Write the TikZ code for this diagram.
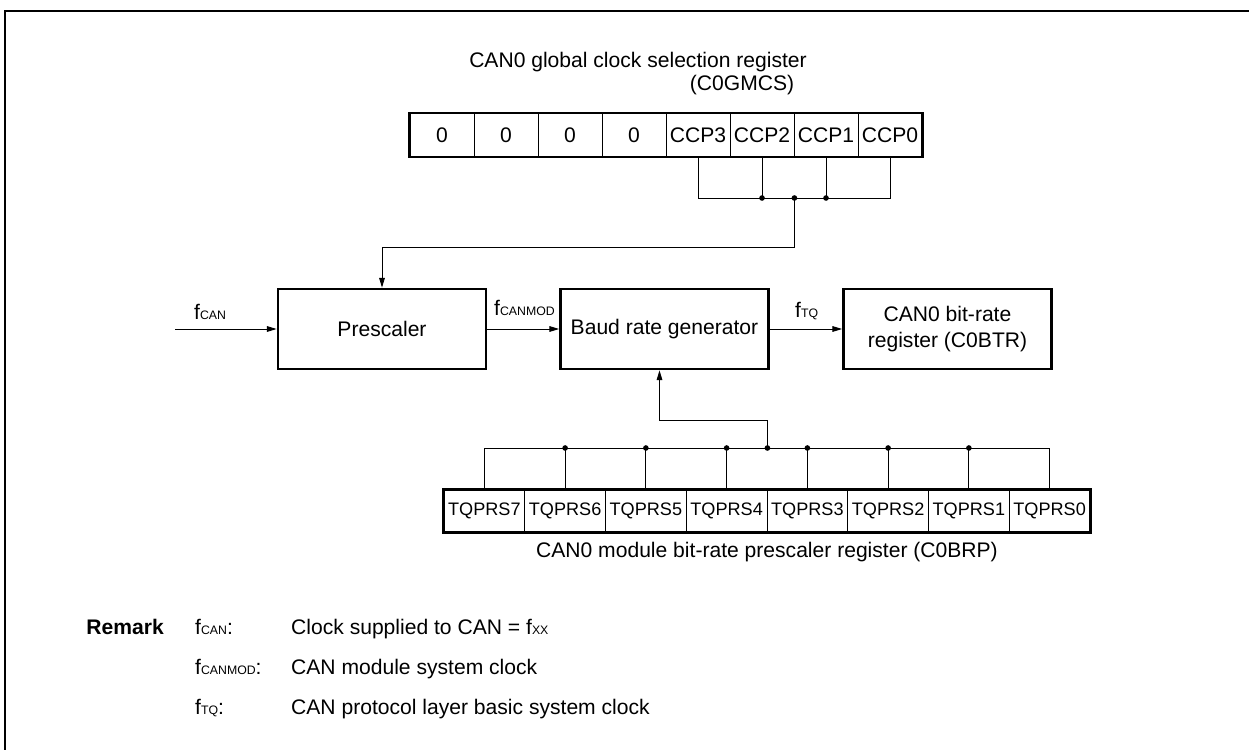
\documentclass[tikz,border=0pt]{standalone}
\usepackage{fontspec}
\setmainfont{Liberation Sans}
\usetikzlibrary{positioning,arrows.meta,calc}
\tikzset{
  blk/.style  ={draw, line width=1.6pt, minimum width=4.16cm, minimum height=1.6cm,
                align=center, font=\fontsize{12}{14.5}\selectfont},
  cell/.style ={draw, line width=0.5pt, inner sep=0pt},
  gcell/.style={cell, minimum width=1.28cm, minimum height=0.86cm, font=\fontsize{12}{14}\selectfont},
  bcell/.style={cell, minimum width=1.615cm, minimum height=0.84cm, font=\fontsize{10.3}{12}\selectfont},
  reg/.style  ={draw, line width=1.6pt},
  wire/.style ={line width=0.5pt},
  fl/.style   ={wire, -{Triangle[length=5.5pt,width=3.2pt]}},
  dot/.style  ={circle, fill, inner sep=0pt, minimum size=3.2pt},
  lbl/.style  ={font=\fontsize{12}{14}\selectfont},
}
\newcommand{\fsub}[1]{f{\fontsize{7}{9}\selectfont #1}}

\begin{document}
\begin{tikzpicture}[x=0.02cm, y=-0.02cm]
  \useasboundingbox (0,0) rectangle (1249,750);
  % frame, open to the right and at the bottom
  \draw[line width=1.6pt] (5,750) -- (5,11) -- (1249,11);

  % global clock selection register
  \node[lbl] (gtitle) at (638,62) {CAN0 global clock selection register};
  \node[lbl] (gname) at (742,85) {(C0GMCS)};
  \foreach \t [count=\i] in {0,0,0,0,CCP3,CCP2,CCP1,CCP0}
    \node[gcell] (g\i) at ({410+64*(\i-0.5)},135) {\t};
  \draw[reg] (g1.north west) rectangle (g8.south east);

  \coordinate (gbus) at (0,198);
  \draw[wire] (g5.south) -- (g5.south |- gbus) -- (g8.south |- gbus) -- (g8.south);
  \draw[wire] (g6.south) -- (g6.south |- gbus);
  \draw[wire] (g7.south) -- (g7.south |- gbus);
  \coordinate (gj) at (g6.south east |- gbus);
  \node[dot] (gd6) at (g6.south |- gbus) {};
  \node[dot] (gd7) at (g7.south |- gbus) {};
  \node[dot] (gdj) at (gj) {};

  % blocks
  \node[blk] (pre) at (382,329) {Prescaler};
  \node[blk] (brg) at (664.5,329) {Baud rate generator};
  \node[blk] (btr) at (947.5,329) {CAN0 bit-rate\\register (C0BTR)};

  \draw[fl] (gj) -- ++(0,49) -| (pre.north);

  \coordinate (fin) at (175,329);
  \draw[fl] (fin) -- (pre.west);
  \draw[fl] (pre) -- (brg);
  \draw[fl] (brg) -- (btr);
  \node[lbl, anchor=base west] (lcan) at (188,319) {\fsub{CAN}};
  \node[lbl, anchor=base west] (lmod) at (488,316) {\fsub{CANMOD}};
  \node[lbl, anchor=base west] (ltq) at (789,317) {\fsub{TQ}};

  % bit-rate prescaler register
  \foreach \t [count=\i] in {7,6,5,4,3,2,1,0}
    \node[bcell] (b\i) at ({444+80.75*(\i-0.5)},511) {TQPRS\t};
  \draw[reg] (b1.north west) rectangle (b8.south east);
  \node[lbl] (bname) at (767,552) {CAN0 module bit-rate prescaler register (C0BRP)};

  \coordinate (bbus) at (0,448);
  \draw[wire] (b1.north) -- (b1.north |- bbus) -- (b8.north |- bbus) -- (b8.north);
  \foreach \i in {2,...,7} {
    \draw[wire] (b\i.north) -- (b\i.north |- bbus);
    \node[dot] (bd\i) at (b\i.north |- bbus) {};
  }
  \coordinate (bj) at (b4.north east |- bbus);
  \node[dot] (bdj) at (bj) {};
  \draw[fl] (bj) -- ++(0,-28) -| ($(brg.south)+(-5,0)$);

  % remark
  \node[lbl, font=\fontsize{12}{14}\selectfont\bfseries, anchor=base east] (rmk) at (170,634) {Remark};
  \node[lbl, anchor=base west] (r1) at (189,634) {\fsub{CAN}:};
  \node[lbl, anchor=base west] (r2) at (189,674) {\fsub{CANMOD}:};
  \node[lbl, anchor=base west] (r3) at (189,714) {\fsub{TQ}:};
  \node[lbl, anchor=base west] (d1) at (285,634) {Clock supplied to CAN = \fsub{XX}};
  \node[lbl, anchor=base west] (d2) at (285,674) {CAN module system clock};
  \node[lbl, anchor=base west] (d3) at (285,714) {CAN protocol layer basic system clock};
\end{tikzpicture}
\end{document}
